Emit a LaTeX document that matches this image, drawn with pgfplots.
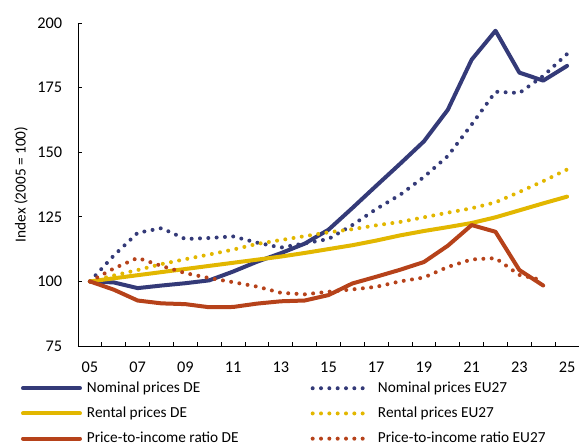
\documentclass[border=0pt]{standalone}
\usepackage{fontspec}
\setmainfont{Carlito}
\usepackage{pgfplots}
\pgfplotsset{compat=1.18}
\definecolor{cnavy}{RGB}{52,58,120}
\definecolor{cyel}{RGB}{226,183,0}
\definecolor{cred}{RGB}{182,66,26}
\pgfplotsset{
  solidser/.style={line width=4bp, line join=round, line cap=round,
    legend image code/.code={\draw[##1] (0bp,0bp) -- (57bp,0bp);}},
  dotser/.style={line width=4bp, line cap=round, dash pattern=on 0bp off 8.33bp,
    legend image code/.code={\draw[##1] (0bp,0bp) -- (50bp,0bp);}},
}
\begin{document}
\fontsize{16.3bp}{19bp}\selectfont
\begin{tikzpicture}
\path[use as bounding box] (-78bp,-100bp) rectangle (501bp,346bp);
\begin{axis}[
  scale only axis, width=501bp, height=323bp,
  at={(0,0)}, anchor=south west,
  xmin=2004.5, xmax=2025.5, ymin=75, ymax=200,
  axis lines=left, axis line style={-, line width=0.8bp},
  tick align=inside,
  xtick={2005,2007,...,2025},
  xticklabels={05,07,09,11,13,15,17,19,21,23,25},
  minor xtick={2005.5,2006.5,...,2024.5},
  major x tick style={draw=none},
  tick style={line width=0.8bp, black},
  major tick length=4.5bp, minor tick length=4.5bp,
  ytick={75,100,...,200},
  /pgf/number format/assume math mode=true,
  x tick label style={inner sep=0pt, yshift=-15.5bp},
  y tick label style={inner sep=0pt, xshift=-15.7bp},
  ylabel={Index (2005 = 100)},
  ylabel style={at={(axis description cs:-0.1138,0.5)}, anchor=center, font=\fontsize{15.3bp}{18bp}\selectfont},
  legend columns=2,
  legend cell align=left,
  legend style={draw=none, fill=none, inner sep=0pt, outer sep=0pt,
    at={(axis description cs:-0.1138,-0.106)}, anchor=north west,
    column sep=0pt, row sep=9.2bp,
    font=\fontsize{15.3bp}{18bp}\selectfont,
    nodes={inner sep=0pt, text height=12bp, text depth=4bp}},
]
\addplot[solidser, cnavy] coordinates {(2005,100)(2006,99.6)(2007,97.4)(2008,98.4)(2009,99.3)(2010,100.4)(2011,103.8)(2012,107.6)(2013,110.9)(2014,114.6)(2015,120)(2016,128.4)(2017,137)(2018,145.5)(2019,154.2)(2020,166.4)(2021,185.8)(2022,197)(2023,180.8)(2024,177.7)(2025,183.4)};
\addlegendentry{\makebox[228.7bp][l]{\hspace*{5bp}Nominal prices DE}}
\addplot[dotser, cnavy] coordinates {(2005,100)(2006,110)(2007,118.8)(2008,120.6)(2009,116.4)(2010,116.8)(2011,117.4)(2012,115)(2013,113.1)(2014,114.7)(2015,116.4)(2016,121.8)(2017,128)(2018,133.5)(2019,140.4)(2020,148.5)(2021,160.7)(2022,173.4)(2023,172.9)(2024,179.5)(2025,188)};
\addlegendentry{\hspace*{13.3bp}Nominal prices EU27}
\addplot[solidser, cyel] coordinates {(2005,100)(2006,101.2)(2007,102.4)(2008,103.6)(2009,104.8)(2010,106)(2011,107.2)(2012,108.4)(2013,109.6)(2014,111)(2015,112.5)(2016,114)(2017,115.8)(2018,117.8)(2019,119.5)(2020,121)(2021,122.6)(2022,124.8)(2023,127.5)(2024,130.2)(2025,132.8)};
\addlegendentry{\makebox[228.7bp][l]{\hspace*{5bp}Rental prices DE}}
\addplot[dotser, cyel] coordinates {(2005,100)(2006,102.3)(2007,104.4)(2008,106.7)(2009,108.6)(2010,110.4)(2011,112.3)(2012,114.5)(2013,116)(2014,117.5)(2015,119)(2016,120.2)(2017,121.7)(2018,123)(2019,124.8)(2020,126.6)(2021,128.3)(2022,130.6)(2023,134.6)(2024,138.8)(2025,143.3)};
\addlegendentry{\hspace*{13.3bp}Rental prices EU27}
\addplot[solidser, cred] coordinates {(2005,100)(2006,96.8)(2007,92.6)(2008,91.5)(2009,91.2)(2010,90)(2011,90.1)(2012,91.4)(2013,92.3)(2014,92.6)(2015,94.7)(2016,99.2)(2017,101.8)(2018,104.5)(2019,107.5)(2020,113.8)(2021,121.8)(2022,119.2)(2023,104.4)(2024,98.4)};
\addlegendentry{\makebox[228.7bp][l]{\hspace*{5bp}Price-to-income ratio DE}}
\addplot[dotser, cred] coordinates {(2005,100)(2006,105)(2007,109.1)(2008,106)(2009,103.2)(2010,101.3)(2011,99.7)(2012,98)(2013,95.6)(2014,95)(2015,96)(2016,96.9)(2017,97.9)(2018,100)(2019,101.5)(2020,105.6)(2021,108.5)(2022,109)(2023,102.5)(2024,100.4)};
\addlegendentry{\hspace*{13.3bp}Price-to-income ratio EU27}
\end{axis}
\end{tikzpicture}
\end{document}
